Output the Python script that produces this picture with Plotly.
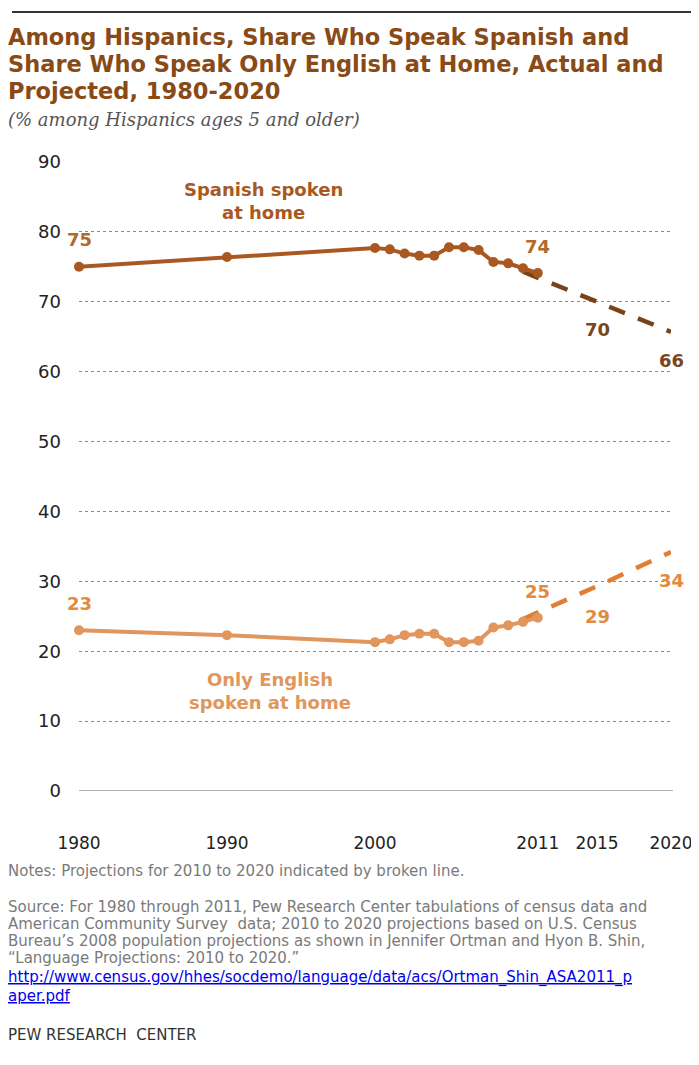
import plotly.graph_objects as go

# The page body has an 8px default margin; the figure is sized and positioned to compensate.
OFF = 8
W, H = 699 - OFF, 1065 - OFF

# ---- data ----
years_actual = [1980, 1990, 2000, 2001, 2002, 2003, 2004, 2005, 2006, 2007, 2008, 2009, 2010, 2011]
spanish_actual = [75.0, 76.4, 77.7, 77.5, 76.9, 76.6, 76.6, 77.8, 77.8, 77.4, 75.7, 75.5, 74.8, 74.1]
english_actual = [23.0, 22.3, 21.3, 21.7, 22.3, 22.5, 22.5, 21.3, 21.3, 21.5, 23.4, 23.7, 24.2, 24.8]

years_proj = [2010, 2015, 2020]
spanish_proj = [74.3, 70.0, 65.7]
english_proj = [24.6, 29.3, 34.2]

x_tick_vals = [1980, 1990, 2000, 2011, 2015, 2020]
x_tick_text = ["1980", "1990", "2000", "2011", "2015", "2020"]
y_tick_vals = [0, 10, 20, 30, 40, 50, 60, 70, 80, 90]

SP_SOLID = "#a9581f"
SP_DASH = "#7a4219"
SP_LBL = "#b26a2a"
SP_LBL2 = "#7b4520"
EN_SOLID = "#e0965c"
EN_DASH = "#e07f33"
EN_LBL = "#e48a3e"


def px(x):
    return (x - OFF) / W


def py(y):
    return 1 - (y - OFF) / H


fig = go.Figure()

fig.add_trace(go.Scatter(x=years_proj, y=spanish_proj, mode="lines",
                         line=dict(color=SP_DASH, width=4.5, dash="17px,14px"),
                         cliponaxis=False, hoverinfo="skip"))
fig.add_trace(go.Scatter(x=years_actual, y=spanish_actual, mode="lines+markers",
                         line=dict(color=SP_SOLID, width=4),
                         marker=dict(color=SP_SOLID, size=10),
                         cliponaxis=False))
fig.add_trace(go.Scatter(x=years_proj, y=english_proj, mode="lines",
                         line=dict(color=EN_DASH, width=4.5, dash="17px,14px"),
                         cliponaxis=False, hoverinfo="skip"))
fig.add_trace(go.Scatter(x=years_actual, y=english_actual, mode="lines+markers",
                         line=dict(color=EN_SOLID, width=4),
                         marker=dict(color=EN_SOLID, size=10),
                         cliponaxis=False))

ann = []

# value labels
def vlabel(x, y, color, shift):
    ann.append(dict(x=x, y=y, xref="x", yref="y", text="<b>%d</b>" % round(y),
                    showarrow=False, yshift=shift,
                    font=dict(family="DejaVu Sans", size=18, color=color)))

vlabel(years_actual[0], spanish_actual[0], SP_LBL, 27)
vlabel(years_actual[-1], spanish_actual[-1], SP_LBL, 27)
vlabel(years_proj[1], spanish_proj[1], SP_LBL2, -28)
vlabel(years_proj[2], spanish_proj[2], SP_LBL2, -29)
vlabel(years_actual[0], english_actual[0], EN_LBL, 27)
vlabel(years_actual[-1], english_actual[-1], EN_LBL, 26)
vlabel(years_proj[1], english_proj[1], EN_LBL, -30)
vlabel(years_proj[2], english_proj[2], EN_LBL, -29)

# series labels
ann.append(dict(x=px(263), y=py(201), xref="paper", yref="paper",
                text="<b>Spanish spoken<br>at home</b>", showarrow=False,
                xanchor="center", yanchor="middle",
                font=dict(family="DejaVu Sans", size=18, color=SP_SOLID)))
ann.append(dict(x=px(270), y=py(691), xref="paper", yref="paper",
                text="<b>Only English<br>spoken at home</b>", showarrow=False,
                xanchor="center", yanchor="middle",
                font=dict(family="DejaVu Sans", size=18, color=EN_SOLID)))

LX = 6  # left edge for text blocks (annotation padding adds ~3px)

# title
TITLE_C = "#8a4a16"
for i, line in enumerate(["Among Hispanics, Share Who Speak Spanish and",
                          "Share Who Speak Only English at Home, Actual and",
                          "Projected, 1980-2020"]):
    ann.append(dict(x=px(LX), y=py(37 + 27 * i), xref="paper", yref="paper",
                    text="<b>%s</b>" % line, showarrow=False,
                    xanchor="left", yanchor="middle",
                    font=dict(family="DejaVu Sans", size=22.5, color=TITLE_C)))
ann.append(dict(x=px(LX), y=py(119), xref="paper", yref="paper",
                text="<i>(% among Hispanics ages 5 and older)</i>", showarrow=False,
                xanchor="left", yanchor="middle",
                font=dict(family="DejaVu Serif", size=18, color="#555555")))

# notes / source
NOTE_C = "#7a7a7a"
NF = "DejaVu Sans"
NS = 15
ann.append(dict(x=px(LX), y=py(871), xref="paper", yref="paper",
                text="Notes: Projections for 2010 to 2020 indicated by broken line.",
                showarrow=False, xanchor="left", yanchor="middle",
                font=dict(family=NF, size=NS, color=NOTE_C)))
src = ["Source: For 1980 through 2011, Pew Research Center tabulations of census data and",
       "American Community Survey  data; 2010 to 2020 projections based on U.S. Census",
       "Bureau\u2019s 2008 population projections as shown in Jennifer Ortman and Hyon B. Shin,",
       "\u201cLanguage Projections: 2010 to 2020.\u201d"]
for i, line in enumerate(src):
    ann.append(dict(x=px(LX), y=py(907 + 17 * i), xref="paper", yref="paper",
                    text=line, showarrow=False, xanchor="left", yanchor="middle",
                    font=dict(family=NF, size=NS, color=NOTE_C)))
for i, line in enumerate(["http://www.census.gov/hhes/socdemo/language/data/acs/Ortman_Shin_ASA2011_p",
                          "aper.pdf"]):
    ann.append(dict(x=px(LX), y=py(977 + 19 * i), xref="paper", yref="paper",
                    text="<u>%s</u>" % line, showarrow=False, xanchor="left", yanchor="middle",
                    font=dict(family=NF, size=NS, color="#0000ee")))
ann.append(dict(x=px(LX), y=py(1035), xref="paper", yref="paper",
                text="PEW RESEARCH  CENTER", showarrow=False, xanchor="left", yanchor="middle",
                font=dict(family=NF, size=NS, color="#333333")))

shapes = [
    dict(type="line", xref="paper", yref="paper", x0=px(12), x1=1, y0=py(12), y1=py(12),
         line=dict(color="#333333", width=2)),
    dict(type="line", xref="paper", yref="y", x0=px(79), x1=px(673), y0=0, y1=0,
         line=dict(color="#9a9a9a", width=1.5), layer="below"),
]

fig.update_layout(
    width=W, height=H,
    margin=dict(l=0, r=0, t=0, b=0, autoexpand=False),
    paper_bgcolor="white", plot_bgcolor="white",
    showlegend=False,
    annotations=ann, shapes=shapes,
    xaxis=dict(domain=[px(79), px(671)], range=[1980, 2020], automargin=False,
               tickvals=x_tick_vals, ticktext=x_tick_text,
               showgrid=False, zeroline=False, showline=False,
               ticks="", ticklabelstandoff=40,
               tickfont=dict(family="DejaVu Sans", size=17, color="#222222")),
    yaxis=dict(domain=[py(791), py(162)], range=[0, 90], automargin=False,
               tickvals=y_tick_vals,
               showgrid=True, gridcolor="#8a8a8a", griddash="dot", gridwidth=1,
               zeroline=False, showline=False,
               ticks="", ticklabelstandoff=17,
               tickfont=dict(family="DejaVu Sans", size=18, color="#222222")),
)

fig.write_html("out.html")
